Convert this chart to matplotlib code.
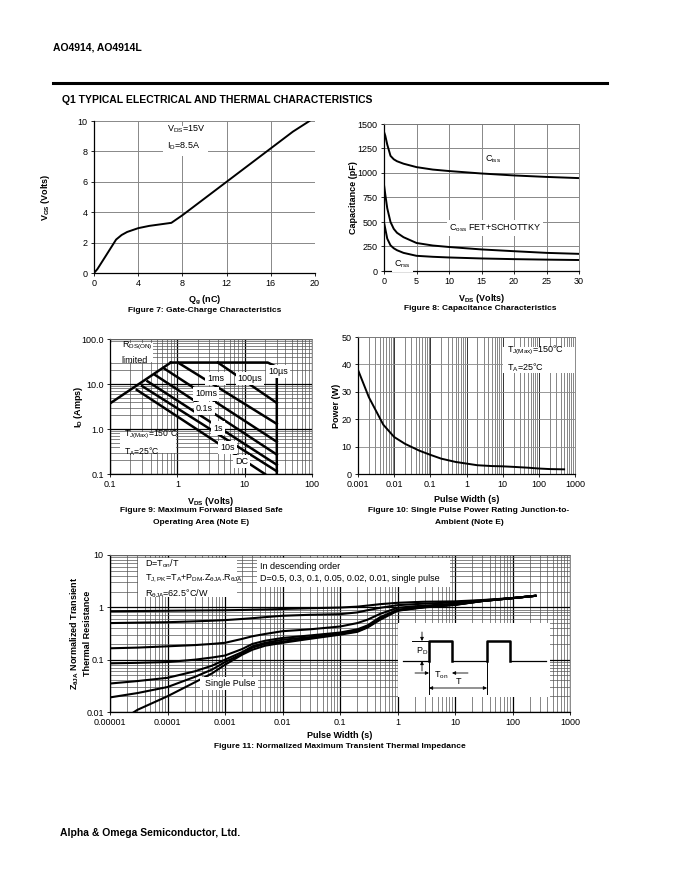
import numpy as np
import matplotlib
matplotlib.use("Agg")
import matplotlib.pyplot as plt
from matplotlib.lines import Line2D
from matplotlib.patches import Rectangle
from matplotlib.ticker import NullFormatter, LogLocator

plt.rcParams['font.family'] = ['Liberation Sans', 'DejaVu Sans']
plt.rcParams['mathtext.fontset'] = 'custom'
plt.rcParams['mathtext.rm'] = 'Liberation Sans'
plt.rcParams['mathtext.it'] = 'Liberation Sans:italic'
plt.rcParams['mathtext.bf'] = 'Liberation Sans:bold'
plt.rcParams['font.size'] = 6.5

# Figure 7: gate charge
qg = [0, 0.3, 1, 2, 2.5, 3, 4, 5, 6, 7, 8, 10, 12, 14, 16, 18, 19.5]
vgs = [0, 0.25, 1.05, 2.2, 2.5, 2.7, 2.95, 3.1, 3.2, 3.3, 3.8, 4.9, 6.0, 7.1, 8.2, 9.3, 10.0]

# Figure 8: capacitance
vds = [0, 0.2, 0.5, 1, 1.5, 2, 3, 5, 7.5, 10, 15, 20, 25, 30]
ciss = [1420, 1380, 1290, 1175, 1140, 1120, 1095, 1060, 1035, 1020, 995, 975, 960, 948]
coss = [880, 780, 640, 500, 430, 390, 345, 286, 260, 245, 220, 202, 185, 175]
crss = [495, 430, 330, 262, 232, 212, 185, 155, 145, 138, 128, 121, 116, 112]

# Figure 9: safe operating area (V, I pairs per line)
soa_rds_v = [0.1, 0.8]
soa_rds_i = [3.7, 30]
soa_lines = {
    "10µs": ([0.8, 22, 30, 30], [30, 30, 24, 0.1]),
    "100µs": ([4.0, 30], [30, 3.8]),
    "1ms": ([1.02, 30], [30, 1.3]),
    "10ms": ([0.62, 30], [22.7, 0.52]),
    "0.1s": ([0.47, 30], [15.8, 0.27]),
    "1s": ([0.36, 30], [11.5, 0.16]),
    "10s": ([0.3, 30], [9.0, 0.115]),
    "DC": ([0.25, 20], [7.4, 0.1]),
}
soa_label_pos = {
    "10µs": (31, 19), "100µs": (12, 13), "1ms": (3.7, 13), "10ms": (2.7, 6),
    "0.1s": (2.5, 2.8), "1s": (4, 1.05), "10s": (5.6, 0.39), "DC": (8.9, 0.19),
}

# Figure 10: single pulse power
pw = [0.001, 0.002, 0.005, 0.01, 0.02, 0.05, 0.1, 0.2, 0.5, 1, 2, 5, 10, 20, 50, 100, 200, 500]
power = [38, 28, 18, 13.5, 11, 8.5, 7, 5.6, 4.4, 3.8, 3.2, 2.9, 2.8, 2.6, 2.3, 2.0, 1.8, 1.7]

# Figure 11: transient thermal impedance
zt = [1e-5, 3e-5, 1e-4, 3e-4, 6e-4, 1e-3, 2e-3, 3e-3, 5e-3, 1e-2, 3e-2, 1e-1, 0.2, 0.3, 0.5,
      1, 2, 3, 10, 30, 100, 250]
z_d05 = [0.84, 0.85, 0.86, 0.87, 0.875, 0.88, 0.89, 0.9, 0.91, 0.93, 0.96, 0.99, 1.03, 1.08,
         1.15, 1.22, 1.26, 1.28, 1.3, 1.38, 1.5, 1.66]
z_d03 = [0.5, 0.51, 0.52, 0.54, 0.555, 0.57, 0.6, 0.62, 0.65, 0.69, 0.72, 0.74, 0.8, 0.88,
         0.98, 1.1, 1.15, 1.18, 1.24, 1.36, 1.5, 1.66]
z_d01 = [0.165, 0.17, 0.18, 0.19, 0.2, 0.21, 0.25, 0.28, 0.31, 0.35, 0.38, 0.43, 0.5, 0.58,
         0.75, 0.98, 1.05, 1.08, 1.17, 1.33, 1.5, 1.66]
z_d005 = [0.085, 0.087, 0.09, 0.1, 0.11, 0.12, 0.16, 0.2, 0.23, 0.26, 0.29, 0.33, 0.38, 0.45,
          0.65, 0.9, 0.98, 1.03, 1.14, 1.32, 1.5, 1.66]
z_d002 = [0.035, 0.039, 0.045, 0.06, 0.077, 0.1, 0.14, 0.18, 0.21, 0.24, 0.27, 0.32, 0.36, 0.43,
          0.62, 0.88, 0.97, 1.02, 1.13, 1.32, 1.5, 1.66]
z_d001 = [0.019, 0.023, 0.03, 0.047, 0.065, 0.09, 0.13, 0.17, 0.2, 0.22, 0.26, 0.31, 0.35, 0.42,
          0.6, 0.87, 0.96, 1.01, 1.12, 1.32, 1.5, 1.66]
z_single = [0.005, 0.011, 0.02, 0.037, 0.055, 0.08, 0.125, 0.155, 0.185, 0.21, 0.25, 0.3, 0.34,
            0.41, 0.58, 0.86, 0.95, 1.0, 1.11, 1.32, 1.5, 1.66]

W, H = 680, 880
fig = plt.figure(figsize=(6.8, 8.8), dpi=100)


def px_axes(x0, y0, x1, y1, **kw):
    return fig.add_axes([x0 / W, 1 - y1 / H, (x1 - x0) / W, (y1 - y0) / H], **kw)


def style(ax):
    ax.tick_params(which='both', direction='out', length=2.5, width=0.6, labelsize=6.5, pad=2)
    ax.tick_params(which='minor', length=0)
    for s in ['left', 'bottom']:
        ax.spines[s].set_linewidth(0.9)
    for s in ['top', 'right']:
        ax.spines[s].set_color('#777')
        ax.spines[s].set_linewidth(0.6)


def white_rect(ax, x0, x1, y0, y1, z=1):
    ax.add_patch(Rectangle((x0, y0), x1 - x0, y1 - y0, facecolor='white',
                           edgecolor='none', zorder=z))


def minor_log(axis):
    axis.set_minor_locator(LogLocator(subs=np.arange(2, 10), numticks=20))
    axis.set_minor_formatter(NullFormatter())


wbox = dict(facecolor='white', edgecolor='none', pad=1.5)
lbl = dict(fontsize=6.5, fontweight='bold')
cap = dict(fontsize=6, fontweight='bold', ha='center', va='center')

# header / footer
fig.text(53 / W, 1 - 47 / H, "AO4914, AO4914L", fontsize=7.5, fontweight='bold', va='center')
fig.add_artist(Line2D([53 / W, 607 / W], [1 - 83 / H] * 2, color='black', lw=2.2))
fig.text(62 / W, 1 - 100 / H, "Q1 TYPICAL ELECTRICAL AND THERMAL CHARACTERISTICS",
         fontsize=7.5, fontweight='bold', va='center')
fig.text(60 / W, 1 - 833 / H, "Alpha & Omega Semiconductor, Ltd.", fontsize=7.5,
         fontweight='bold', va='center')

# ---- Figure 7
ax1 = px_axes(94, 121, 315, 273)
style(ax1)
ax1.spines['top'].set_visible(False)
ax1.spines['right'].set_visible(False)
ax1.set_xlim(0, 20)
ax1.set_ylim(0, 10)
ax1.set_xticks(range(0, 21, 4))
ax1.set_yticks(range(0, 11, 2))
ax1.grid(True, color='#888', lw=0.7)
ax1.set_axisbelow(True)
ax1.plot(qg, vgs, color='black', lw=1.4, zorder=3)
white_rect(ax1, 6.2, 10.3, 7.7, 9.7)
ax1.text(6.6, 8.9, "V$_{\\rm DS}$=15V\nI$_{\\rm D}$=8.5A", fontsize=6.5, va='center',
         linespacing=1.6, zorder=4)
ax1.set_xlabel("Q$_{\\mathbf{g}}$ (nC)", labelpad=4, **lbl)
ax1.set_ylabel("V$_{\\mathbf{GS}}$ (Volts)", **lbl)
ax1.yaxis.set_label_coords(-0.19, 0.5)
fig.text(205 / W, 1 - 311 / H, "Figure 7: Gate-Charge Characteristics", **cap)

# ---- Figure 8
ax2 = px_axes(384, 124, 579, 271)
style(ax2)
ax2.set_xlim(0, 30)
ax2.set_ylim(0, 1500)
ax2.set_xticks(range(0, 31, 5))
ax2.set_yticks(range(0, 1501, 250))
ax2.grid(True, color='#888', lw=0.7)
ax2.set_axisbelow(True)
for c in (ciss, coss, crss):
    ax2.plot(vds, c, color='black', lw=1.4)
ax2.text(15.6, 1140, "C$_{\\rm iss}$", fontsize=6.5, va='center', bbox=wbox)
ax2.text(10, 440, "C$_{\\rm oss}$ FET+SCHOTTKY", fontsize=6.5, va='center', bbox=wbox)
ax2.text(1.5, 70, "C$_{\\rm rss}$", fontsize=6.5, va='center', bbox=wbox)
ax2.set_xlabel("V$_{\\mathbf{DS}}$ (Volts)", labelpad=4, **lbl)
ax2.set_ylabel("Capacitance (pF)", **lbl)
ax2.yaxis.set_label_coords(-0.135, 0.5)
fig.text(480 / W, 1 - 308 / H, "Figure 8: Capacitance Characteristics", **cap)

# ---- Figure 9
ax3 = px_axes(110, 339, 312, 474)
style(ax3)
ax3.set_xscale('log')
ax3.set_yscale('log')
ax3.set_xlim(0.1, 100)
ax3.set_ylim(0.1, 100)
ax3.set_xticks([0.1, 1, 10, 100])
ax3.set_xticklabels(["0.1", "1", "10", "100"])
ax3.set_yticks([0.1, 1, 10, 100])
ax3.set_yticklabels(["0.1", "1.0", "10.0", "100.0"])
minor_log(ax3.xaxis)
minor_log(ax3.yaxis)
ax3.grid(True, which='major', color='black', lw=0.9)
ax3.grid(True, which='minor', color='#555', lw=0.5)
ax3.set_axisbelow(True)
ax3.plot(soa_rds_v, soa_rds_i, color='black', lw=1.8)
for name, (v, i) in soa_lines.items():
    ax3.plot(v, i, color='black', lw=1.8)
for name, (x, y) in soa_label_pos.items():
    ax3.text(x, y, name, fontsize=6.5, ha='center', va='center', bbox=wbox, zorder=5)
white_rect(ax3, 0.1, 0.44, 31, 81)
ax3.text(0.15, 50, "R$_{\\rm DS(ON)}$\nlimited", fontsize=6.5, va='center',
         linespacing=1.5, zorder=4)
white_rect(ax3, 0.14, 0.95, 0.3, 0.85, z=3)
ax3.text(0.16, 0.5, "T$_{\\rm J(Max)}$=150°C\nT$_{\\rm A}$=25°C", fontsize=6.2,
         va='center', linespacing=1.5, zorder=4)
ax3.set_xlabel("V$_{\\mathbf{DS}}$ (Volts)", labelpad=4, **lbl)
ax3.set_ylabel("I$_{\\mathbf{D}}$ (Amps)", **lbl)
ax3.yaxis.set_label_coords(-0.125, 0.5)
fig.text(201 / W, 1 - 510 / H, "Figure 9: Maximum Forward Biased Safe", **cap)
fig.text(201 / W, 1 - 522 / H, "Operating Area (Note E)", **cap)

# ---- Figure 10
ax4 = px_axes(358, 337, 575, 474)
style(ax4)
ax4.set_xscale('log')
ax4.set_xlim(0.001, 1000)
ax4.set_ylim(0, 50)
ax4.set_xticks([0.001, 0.01, 0.1, 1, 10, 100, 1000])
ax4.set_xticklabels(["0.001", "0.01", "0.1", "1", "10", "100", "1000"])
ax4.set_yticks(range(0, 51, 10))
minor_log(ax4.xaxis)
ax4.grid(True, which='major', axis='x', color='#333', lw=0.7)
ax4.grid(True, which='minor', axis='x', color='#555', lw=0.5)
ax4.grid(True, which='major', axis='y', color='#888', lw=0.6)
ax4.set_axisbelow(True)
ax4.plot(pw, power, color='black', lw=1.4)
white_rect(ax4, 10.2, 1000, 36.9, 46.4)
ax4.text(13, 42, "T$_{\\rm J(Max)}$=150°C\nT$_{\\rm A}$=25°C", fontsize=6.5, va='center',
         ha='left', linespacing=1.5, zorder=4)
ax4.set_xlabel("Pulse Width (s)", labelpad=4, **lbl)
ax4.set_ylabel("Power (W)", **lbl)
ax4.yaxis.set_label_coords(-0.08, 0.5)
fig.text(469 / W, 1 - 510 / H, "Figure 10: Single Pulse Power Rating Junction-to-", **cap)
fig.text(469 / W, 1 - 522 / H, "Ambient (Note E)", **cap)

# ---- Figure 11
ax5 = px_axes(110, 555, 570, 712)
style(ax5)
ax5.set_xscale('log')
ax5.set_yscale('log')
ax5.set_xlim(1e-5, 1000)
ax5.set_ylim(0.01, 10)
ax5.set_xticks([1e-5, 1e-4, 1e-3, 1e-2, 1e-1, 1, 10, 100, 1000])
ax5.set_xticklabels(["0.00001", "0.0001", "0.001", "0.01", "0.1", "1", "10", "100", "1000"])
ax5.set_yticks([0.01, 0.1, 1, 10])
ax5.set_yticklabels(["0.01", "0.1", "1", "10"])
minor_log(ax5.xaxis)
minor_log(ax5.yaxis)
ax5.grid(True, which='major', color='black', lw=0.9)
ax5.grid(True, which='minor', color='#555', lw=0.5)
ax5.set_axisbelow(True)
for z in (z_d05, z_d03, z_d01, z_d005, z_d002, z_d001, z_single):
    ax5.plot(zt, z, color='black', lw=1.5)
white_rect(ax5, 3.07e-5, 1.6e-3, 1.58, 8.76)
ax5.text(4e-5, 3.55, "D=T$_{\\rm on}$/T\nT$_{\\rm J,PK}$=T$_{\\rm A}$+P$_{\\rm DM}$.Z$_{\\rm θJA}$.R$_{\\rm θJA}$\n"
         "R$_{\\rm θJA}$=62.5°C/W", fontsize=6.5, va='center', ha='left', linespacing=1.35,
         zorder=4)
white_rect(ax5, 3.6e-3, 8.1, 2.45, 8.76)
ax5.text(4.1e-3, 4.6, "In descending order\nD=0.5, 0.3, 0.1, 0.05, 0.02, 0.01, single pulse",
         fontsize=6.5, va='center', ha='left', linespacing=1.5, zorder=4)
white_rect(ax5, 3.7e-4, 3.7e-3, 0.0263, 0.0465, z=4)
ax5.text(4.5e-4, 0.035, "Single Pulse", fontsize=6.5, va='center', ha='left', zorder=5)
ax5.set_xlabel("Pulse Width (s)", labelpad=3, **lbl)
ax5.set_ylabel("Z$_{\\mathbf{θJA}}$ Normalized Transient\nThermal Resistance",
               linespacing=1.2, **lbl)
ax5.yaxis.set_label_coords(-0.04, 0.5)
fig.text(340 / W, 1 - 746 / H, "Figure 11: Normalized Maximum Transient Thermal Impedance", **cap)

# pulse diagram inset (schematic, pixel coordinates)
axi = px_axes(398, 623, 550, 697)
axi.set_xlim(398, 550)
axi.set_ylim(697, 623)
axi.set_facecolor('white')
for s in axi.spines.values():
    s.set_visible(False)
axi.set_xticks([])
axi.set_yticks([])
base_y, top_y = 661, 641
pulse_x = [403, 429, 429, 452, 452, 487, 487, 510, 510, 546]
pulse_y = [base_y, base_y, top_y, top_y, base_y, base_y, top_y, top_y, base_y, base_y]
axi.plot(pulse_x[:2], pulse_y[:2], color='black', lw=0.9)
axi.plot(pulse_x[1:5], pulse_y[1:5], color='black', lw=1.8)
axi.plot(pulse_x[4:6], pulse_y[4:6], color='black', lw=0.9)
axi.plot(pulse_x[5:9], pulse_y[5:9], color='black', lw=1.8)
axi.plot(pulse_x[8:], pulse_y[8:], color='black', lw=0.9)
axi.plot([412, 429], [top_y, top_y], color='black', lw=0.7)
axi.plot([429, 429], [base_y, 694], color='black', lw=0.7)
axi.plot([487, 487], [base_y, 694], color='black', lw=0.7)
arr = dict(arrowstyle='-|>', color='black', lw=0.6, mutation_scale=5, shrinkA=0, shrinkB=0)
axi.annotate("", xy=(422, top_y), xytext=(422, 632), arrowprops=arr)
axi.annotate("", xy=(422, base_y), xytext=(422, 671), arrowprops=arr)
axi.annotate("", xy=(429, 673), xytext=(415, 673), arrowprops=arr)
axi.annotate("", xy=(452, 673), xytext=(468, 673), arrowprops=arr)
axi.annotate("", xy=(429, 688), xytext=(487, 688),
             arrowprops=dict(arrowstyle='<|-|>', color='black', lw=0.6, mutation_scale=5,
                             shrinkA=0, shrinkB=0))
axi.text(416, 651, "P$_{\\rm D}$", fontsize=6.5, va='center')
axi.text(434, 675, "T$_{\\rm on}$", fontsize=6.5, va='center')
axi.text(456, 681, "T", fontsize=6.5, va='center')

fig.savefig("out.png", dpi=100)
